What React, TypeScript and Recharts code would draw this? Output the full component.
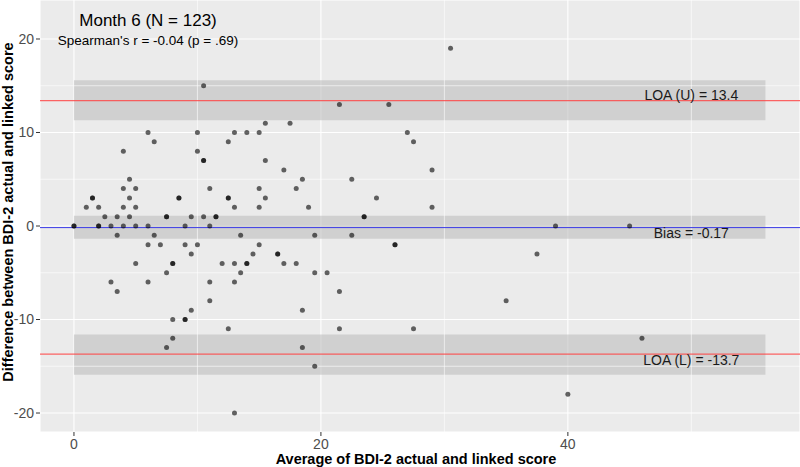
import {
  ScatterChart,
  Scatter,
  XAxis,
  YAxis,
  CartesianGrid,
  ReferenceLine,
  ReferenceArea,
  ReferenceDot,
  Label,
} from 'recharts';

// Bland-Altman data, month 6 (dark dots = repeated pairs)
const avgScore = [
  0, 0, 1, 1.5, 1.5, 2, 2, 2, 2.5, 3, 3, 3.5, 3.5, 3.5, 4, 4, 4, 4, 4.5, 4.5, 4.5,
  5, 5, 5, 5, 6, 6, 6, 6, 6.5, 6.5, 7, 7.5, 7.5, 7.5, 7.5, 8, 8, 8, 8, 8.5, 8.5,
  9, 9, 9, 9, 9.5, 9.5, 9.5, 10, 10, 10, 10.5, 10.5, 10.5, 10.5, 11, 11, 11, 11,
  11.5, 11.5, 12, 12.5, 12.5, 12.5, 12.5, 13, 13, 13, 13, 13, 13.5, 13.5, 14, 14,
  14, 14.5, 15, 15, 15, 15, 15.5, 15.5, 15.5, 16.5, 16.5, 17, 17, 17.5, 18, 18,
  18.5, 18.5, 18.5, 19, 19.5, 19.5, 19.5, 20.5, 21.5, 21.5, 21.5, 22.5, 22.5,
  23.5, 23.5, 24.5, 25.5, 26, 26, 27, 27.5, 27.5, 29, 29, 30.5, 35, 37.5, 39, 40,
  45, 46,
];
const diffScore = [
  0, 0, 2, 3, 3, 2, 0, 0, 1, 0, -6, 1, -1, -7, 8, 4, 2, 0, 5, 3, 1,
  4, 2, 0, -4, 10, 0, -2, -6, 9, -1, -2, 1, 1, -5, -13, -4, -4, -10, -12, 3, 3,
  0, -2, -10, -10, 1, -3, -9, 10, 8, -2, 15, 7, 7, 1, 4, 0, -6, -8,
  1, 1, -4, 9, 3, 3, -11, 10, 2, -4, -6, -20, -1, -5, 10, -4,
  -4, -3, 10, 4, 2, -2, 11, 7, 3, -3, -3, 6, -4, 11, 4, -4,
  5, -9, -13, 2, -1, -5, -15, -5, 13, -7, -11, 5, -1,
  1, 1, 3, 13, -2, -2, 10, 9, -11, 6, 2, 19, -8, -3, 0, -18,
  0, -12,
];

const loaUpper = 13.4;
const bias = -0.17;
const loaLower = -13.7;
// 95% CI bands around each line
const bandLow = [11.3, -1.35, -15.9];
const bandHigh = [15.6, 1.1, -11.6];
const bandXMax = 56;

const xTicks = [0, 20, 40];
const yTicks = [-20, -10, 0, 10, 20];
const xMinor = [10, 30, 50];
const yMinor = [-15, -5, 5, 15];

const data = avgScore.map((x, i) => ({ x, y: diffScore[i] }));

const FONT = '"Liberation Sans", Arial, sans-serif';

const Dot = (props: any) => (
  <circle cx={props.cx} cy={props.cy} r={2.5} fill="#000000" fillOpacity={0.6} />
);

const centerText = (text: string, size: number, color = '#1A1A1A') => (props: any) => {
  const vb = props.viewBox || {};
  const cx = (vb.x ?? 0) + (vb.width ?? 0) / 2;
  const cy = (vb.y ?? 0) + (vb.height ?? 0) / 2;
  return (
    <text x={cx} y={cy} dy="0.35em" textAnchor="middle" fontSize={size} fill={color} fontFamily={FONT}>
      {text}
    </text>
  );
};

export default function App() {
  return (
    <div style={{ position: 'absolute', left: 0, top: 0, background: '#fff', fontFamily: FONT }}>
      <ScatterChart width={800} height={467} margin={{ top: 0, right: 0, bottom: 0, left: 0 }}>
        <CartesianGrid fill="#EBEBEB" stroke="#FFFFFF" strokeWidth={1.1} />
        {xMinor.map((v) => (
          <ReferenceLine key={'vx' + v} x={v} stroke="#FFFFFF" strokeWidth={0.6} />
        ))}
        {yMinor.map((v) => (
          <ReferenceLine key={'hy' + v} y={v} stroke="#FFFFFF" strokeWidth={0.6} />
        ))}
        <XAxis
          type="number"
          dataKey="x"
          domain={[-2.75, 58.8]}
          ticks={xTicks}
          allowDataOverflow
          height={35}
          axisLine={false}
          tickSize={4}
          tickMargin={3}
          tickLine={{ stroke: '#333333' }}
          tick={{ fill: '#4D4D4D', fontSize: 14, fontFamily: FONT }}
        >
          <Label
            content={() => (
              <text x={416} y={464} textAnchor="middle" fontSize={14.5} fontWeight="bold" fill="#000" fontFamily={FONT}>
                Average of BDI-2 actual and linked score
              </text>
            )}
          />
        </XAxis>
        <YAxis
          type="number"
          dataKey="y"
          domain={[-22.03, 24.17]}
          ticks={yTicks}
          allowDataOverflow
          width={40}
          axisLine={false}
          tickSize={4}
          tickLine={{ stroke: '#333333' }}
          tick={{ fill: '#4D4D4D', fontSize: 14, fontFamily: FONT }}
        >
          <Label
            content={() => (
              <text
                x={13}
                y={212}
                transform="rotate(-90 13 212)"
                textAnchor="middle"
                fontSize={14.5}
                fontWeight="bold"
                fill="#000"
                fontFamily={FONT}
              >
                Difference between BDI-2 actual and linked score
              </text>
            )}
          />
        </YAxis>
        {bandLow.map((lo, i) => (
          <ReferenceArea
            key={'band' + i}
            x1={0}
            x2={bandXMax}
            y1={lo}
            y2={bandHigh[i]}
            fill="#BEBEBE"
            fillOpacity={0.6}
            stroke="none"
          />
        ))}
        <ReferenceLine y={loaUpper} stroke="#FF4040" strokeWidth={1} />
        <ReferenceLine y={bias} stroke="#3A3AE6" strokeWidth={1} />
        <ReferenceLine y={loaLower} stroke="#FF4040" strokeWidth={1} />
        <Scatter data={data} shape={Dot} isAnimationActive={false} />
        <ReferenceDot x={50} y={13.95} r={0} fill="none" stroke="none" label={{ content: centerText('LOA (U) = 13.4', 14) }} />
        <ReferenceDot x={50} y={-0.8} r={0} fill="none" stroke="none" label={{ content: centerText('Bias = -0.17', 14) }} />
        <ReferenceDot x={50} y={-14.3} r={0} fill="none" stroke="none" label={{ content: centerText('LOA (L) = -13.7', 14) }} />
        <ReferenceDot x={6} y={22} r={0} fill="none" stroke="none" label={{ content: centerText('Month 6 (N = 123)', 17, '#000') }} />
        <ReferenceDot x={6} y={19.9} r={0} fill="none" stroke="none" label={{ content: centerText("Spearman's r = -0.04 (p = .69)", 13.5, '#000') }} />
      </ScatterChart>
    </div>
  );
}
